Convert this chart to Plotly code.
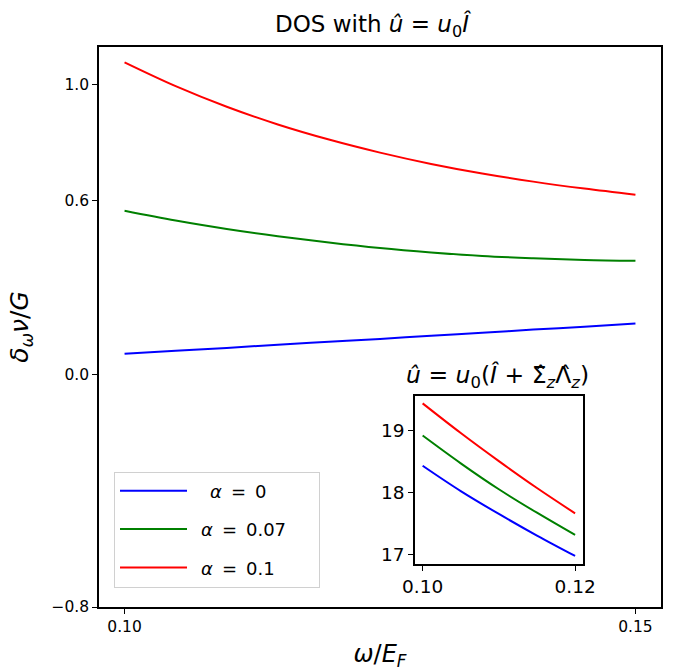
import plotly.graph_objects as go

# ---- data ----
omega = [0.100, 0.105, 0.110, 0.115, 0.120, 0.125, 0.130, 0.135, 0.140, 0.145, 0.150]
dos_a0 = [0.073, 0.083, 0.093, 0.104, 0.114, 0.124, 0.135, 0.145, 0.156, 0.166, 0.177]
dos_a007 = [0.566, 0.532, 0.503, 0.478, 0.456, 0.437, 0.422, 0.410, 0.402, 0.396, 0.393]
dos_a01 = [1.077, 0.995, 0.924, 0.863, 0.811, 0.766, 0.727, 0.694, 0.666, 0.642, 0.621]

omega_in = [0.100, 0.105, 0.110, 0.115, 0.120]
in_a0 = [18.43, 18.02, 17.65, 17.30, 16.97]
in_a007 = [18.92, 18.47, 18.05, 17.67, 17.31]
in_a01 = [19.44, 18.96, 18.505, 18.07, 17.66]

labels = ["\u2002\u2002<i>α</i>\u2002=\u20020",
          "\u2002<i>α</i>\u2002=\u20020.07\u2003\u2002",
          "\u2002<i>α</i>\u2002=\u20020.1"]
colors = ["#0000ff", "#008000", "#ff0000"]

main_xticks = [0.10, 0.15]
main_xticktext = ["0.10", "0.15"]
main_yticks = [1.0, 0.6, 0.0, -0.8]
main_yticktext = ["1.0", "0.6", "0.0", "−0.8"]
in_xticks = [0.10, 0.12]
in_xticktext = ["0.10", "0.12"]
in_yticks = [17, 18, 19]

FONT = "DejaVu Sans"

fig = go.Figure()
for i, ys in enumerate([dos_a0, dos_a007, dos_a01]):
    fig.add_trace(go.Scatter(
        x=omega, y=ys, mode="lines", name=labels[i],
        legendgroup="g%d" % i,
        line=dict(color=colors[i], width=2, shape="spline"),
        xaxis="x", yaxis="y"))
for i, ys in enumerate([in_a0, in_a007, in_a01]):
    fig.add_trace(go.Scatter(
        x=omega_in, y=ys, mode="lines", showlegend=False,
        line=dict(color=colors[i], width=2, shape="spline"),
        xaxis="x2", yaxis="y2"))


def axis_style(size):
    return dict(showline=True, linecolor="black", linewidth=1.6, mirror=True,
                ticks="outside", ticklen=5, tickwidth=1.2, tickcolor="black",
                showgrid=False, zeroline=False, automargin=False,
                tickfont=dict(family=FONT, size=size, color="black"))


fig.update_layout(
    template="none",
    width=678, height=671,
    margin=dict(l=99, r=17, t=47, b=64, autoexpand=False),
    paper_bgcolor="white", plot_bgcolor="white",
    font=dict(family=FONT, color="black"),
    xaxis=dict(domain=[0, 1], range=[0.0975, 0.1525],
               tickvals=main_xticks, ticktext=main_xticktext,
               title=dict(text="<i>ω</i>/<i>E</i><sub><i>F</i></sub>",
                          font=dict(family=FONT, size=24), standoff=10),
               **axis_style(15.5)),
    yaxis=dict(domain=[0, 1], range=[-0.8, 1.13],
               tickvals=main_yticks, ticktext=main_yticktext,
               title=dict(text="<i>δ</i><sub><i>ω</i></sub><i>ν</i>/<i>G</i>",
                          font=dict(family=FONT, size=25), standoff=16),
               **axis_style(15.5)),
    xaxis2=dict(domain=[0.5623, 0.8607], range=[0.099, 0.121], anchor="y2",
                tickvals=in_xticks, ticktext=in_xticktext, **axis_style(18.5)),
    yaxis2=dict(domain=[0.0768, 0.3768], range=[16.84, 19.56], anchor="x2",
                tickvals=in_yticks, **axis_style(18.5)),
    legend=dict(x=0.0267, y=0.0348, xanchor="left", yanchor="bottom",
                bgcolor="white", bordercolor="#d0d0d0", borderwidth=1,
                font=dict(family=FONT, size=18, color="black"),
                itemwidth=67,
                tracegroupgap=12, traceorder="grouped"),
    showlegend=True,
)

fig.add_annotation(text="DOS with <i>û</i> = <i>u</i><sub>0</sub><i>Î</i>",
                   xref="paper", yref="paper", x=0.3096, xanchor="left",
                   y=1.0, yanchor="bottom", yshift=4, showarrow=False,
                   font=dict(family=FONT, size=23, color="black"))
fig.add_annotation(text="<i>û</i> = <i>u</i><sub>0</sub>(<i>Î</i> + Σ\u0302<sub><i>z</i></sub>Λ\u0302<sub><i>z</i></sub>)",
                   xref="paper", yref="paper", x=0.5427, xanchor="left",
                   y=0.3768, yanchor="bottom", yshift=2, showarrow=False,
                   font=dict(family=FONT, size=23.5, color="black"))

fig.write_html("out.html", config={"displayModeBar": False})

# remove default page margin so the figure sits at the window's top-left corner
with open("out.html", "r", encoding="utf-8") as f:
    html = f.read()
html = html.replace("<head>", "<head><style>html,body{margin:0;padding:0;overflow:hidden;}</style>", 1)
with open("out.html", "w", encoding="utf-8") as f:
    f.write(html)
